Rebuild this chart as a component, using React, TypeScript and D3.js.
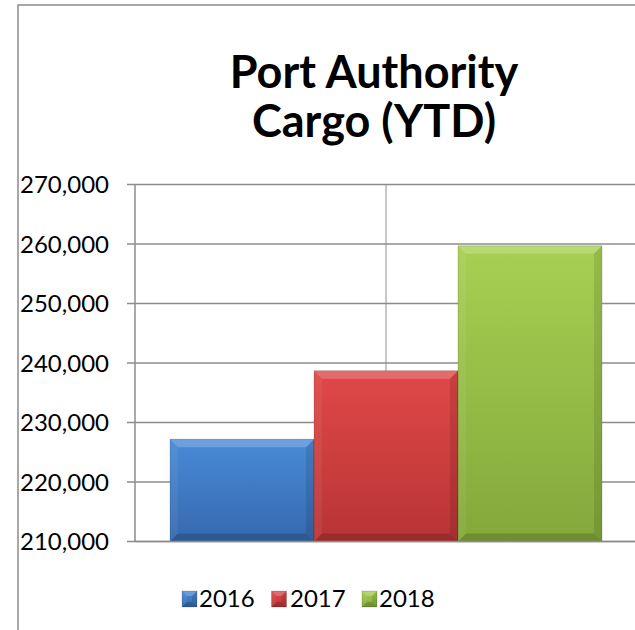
import React from "react";
import * as d3 from "d3";

const years = ["2016", "2017", "2018"];
const cargo = [227200, 238700, 259700];
const yTicks = [210000, 220000, 230000, 240000, 250000, 260000, 270000];
const titleLines = ["Port Authority", "Cargo (YTD)"];

const palette = [
  { top: "#4a8ad8", bottom: "#3569ad" },
  { top: "#e04848", bottom: "#b83434" },
  { top: "#a6d052", bottom: "#84a83b" },
];

const W = 635;
const H = 630;
const plotLeft = 135;
const plotRight = 637;
const plotTop = 184.5;
const plotBottom = 541.5;
const gap = 35;

const FONT = "Lato, 'Open Sans', sans-serif";

function Bevel({ x, y, w, h, i }: { x: number; y: number; w: number; h: number; i: number }) {
  const b = Math.min(8, w / 3, h / 3);
  const pts = (a: number[][]) => a.map((p) => p.join(",")).join(" ");
  return (
    <g>
      <rect x={x} y={y} width={w} height={h} fill={`url(#grad${i})`} />
      <polygon points={pts([[x, y], [x + w, y], [x + w - b, y + b], [x + b, y + b]])} fill="#fff" opacity={0.2} />
      <polygon points={pts([[x, y], [x + b, y + b], [x + b, y + h - b], [x, y + h]])} fill="#fff" opacity={0.06} />
      <polygon points={pts([[x + w, y], [x + w, y + h], [x + w - b, y + h - b], [x + w - b, y + b]])} fill="#000" opacity={0.1} />
      <polygon points={pts([[x, y + h], [x + w, y + h], [x + w - b, y + h - b], [x + b, y + h - b]])} fill="#000" opacity={0.16} />
      <rect x={x} y={y} width={w} height={h} fill="none" stroke="#000" strokeOpacity={0.15} strokeWidth={1} />
    </g>
  );
}

export default function App() {
  const y = d3.scaleLinear().domain([210000, 270000]).range([plotBottom, plotTop]);
  const x = d3
    .scaleBand<string>()
    .domain(years)
    .range([plotLeft + gap, plotRight - gap])
    .paddingInner(0);
  const fmt = d3.format(",");

  const legendItems = [
    { sq: 182, tx: 199 },
    { sq: 271.5, tx: 290 },
    { sq: 362, tx: 379 },
  ];

  return (
    <svg
      width={W}
      height={H}
      style={{ position: "absolute", left: 0, top: 0, background: "#fff" }}
    >
      <defs>
        {palette.map((p, i) => (
          <linearGradient key={i} id={`grad${i}`} x1="0" y1="0" x2="0" y2="1">
            <stop offset="0%" stopColor={p.top} />
            <stop offset="100%" stopColor={p.bottom} />
          </linearGradient>
        ))}
      </defs>
      <rect x={18} y={5} width={W} height={H} fill="#fff" stroke="#8c8c8c" strokeWidth={1.5} />

      {titleLines.map((t, i) => (
        <text
          key={t}
          x={374}
          y={88 + i * 49}
          textAnchor="middle"
          fontFamily={FONT}
          fontWeight={700}
          fontSize={45}
          fill="#000"
        >
          {t}
        </text>
      ))}

      <line x1={(plotLeft + plotRight) / 2} x2={(plotLeft + plotRight) / 2} y1={plotTop} y2={plotBottom} stroke="#b4b4b4" strokeWidth={1.5} />
      {yTicks.map((t) => (
        <line key={t} x1={127} x2={W + 5} y1={y(t)} y2={y(t)} stroke="#8c8c8c" strokeWidth={1.5} />
      ))}
      <line x1={plotLeft} x2={plotLeft} y1={plotTop} y2={plotBottom} stroke="#8c8c8c" strokeWidth={1.5} />

      {yTicks.map((t) => (
        <text
          key={t}
          x={109}
          y={y(t)}
          dy="0.36em"
          textAnchor="end"
          fontFamily={FONT}
          fontSize={24}
          fill="#000"
        >
          {fmt(t)}
        </text>
      ))}

      {years.map((yr, i) => {
        const x0 = x(yr)!;
        const y0 = y(cargo[i]);
        return <Bevel key={yr} x={x0} y={y0} w={x.bandwidth()} h={plotBottom - y0} i={i} />;
      })}
      <line x1={plotLeft} x2={W + 5} y1={plotBottom} y2={plotBottom} stroke="#8c8c8c" strokeWidth={1.5} />

      {years.map((yr, i) => (
        <g key={yr}>
          <Bevel x={legendItems[i].sq} y={591} w={15} h={16} i={i} />
          <text x={legendItems[i].tx} y={607} fontFamily={FONT} fontSize={24} fill="#000">
            {yr}
          </text>
        </g>
      ))}
    </svg>
  );
}
